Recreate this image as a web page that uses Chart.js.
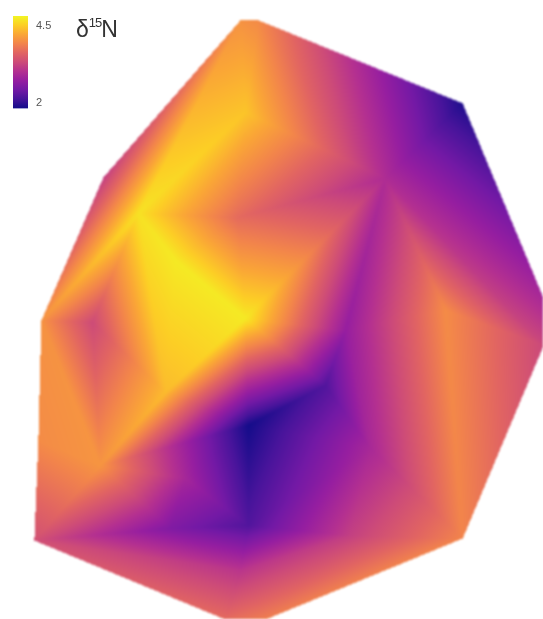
<!DOCTYPE html>
<html>
<head>
<meta charset="utf-8">
<title>d15N</title>
<script src="https://cdn.jsdelivr.net/npm/chart.js@4"></script>
<style>
html,body{margin:0;padding:0;background:#fff;}
#wrap{position:relative;width:543px;height:619px;overflow:hidden;}
#mapChart{position:absolute;left:0;top:0;}
#barChart{position:absolute;left:0;top:0;}
#title{position:absolute;left:76px;top:15px;font:23px "Liberation Sans",Arial,sans-serif;color:#333;line-height:28px;}
#title sup{font-size:13px;line-height:0;position:relative;top:-1px;vertical-align:super;letter-spacing:-1px;}
</style>
</head>
<body>
<div id="wrap">
<canvas id="mapChart" width="543" height="619"></canvas>
<canvas id="barChart" width="60" height="123"></canvas>
<div id="title">δ<sup>15</sup>N</div>
</div>
<script>
// sample sites: position + d15N
//            A    B    C    D    E    F    G    H    I    J    K    L    M    N    O    Q    R    S    T    U    V    W    X    Y    AA   BB   EE   FF   GG   HH   P
let siteX =  [240, 258, 462, 543, 543, 462, 265, 225, 34,  41,  103, 138, 175, 245, 92,  165, 100, 248, 248, 325, 345, 385, 445, 370, 245, 237, 170, 240, 350, 185, 38];
let siteY =  [20,  20,  103, 298, 345, 538, 619, 619, 540, 320, 177, 213, 260, 318, 322, 392, 465, 425, 525, 385, 330, 178, 310, 448, 112, 217, 528, 570, 535, 478, 440];
let siteN15 =[4.05,3.98,1.9, 2.91,3.3, 3.93,3.87,3.69,3.39,4.05,3.21,4.67,4.73,4.73,3.33,4.38,4.07,1.84,2.2, 2.2, 2.73,2.97,3.99,2.91,4.45,3.69,2.55,3.09,3.21,2.88,3.99];

// triangulation, indexes into the site arrays
let triangles = [
 [0,1,24],[1,21,24],[24,21,25],[1,2,21],[2,3,21],[3,4,21],[4,22,21],[4,5,22],[22,5,23],
 [21,22,20],[20,22,23],[21,13,25],[21,20,13],[25,12,11],[25,13,12],[24,25,11],[0,24,11],
 [0,11,10],[10,11,9],[9,11,14],[11,15,14],[11,12,15],[12,13,15],[13,20,19],[13,19,17],
 [20,23,19],[19,23,17],[17,23,18],[23,28,18],[23,5,28],[28,5,6],[28,6,27],[27,6,7],[27,7,8],
 [27,8,26],[18,28,27],[18,27,26],[26,8,16],[26,16,29],[29,18,26],[29,17,18],[29,16,17],
 [16,15,17],[15,13,17],[9,14,16],[9,16,30],[30,16,8],[14,15,16]
];

let scaleMin = 1.84, scaleMax = 4.82;
let scaleTicks = [2, 4.5];
let plasma = [[20,12,138],[72,20,155],[115,25,165],[150,30,160],[180,48,144],[205,75,120],[225,100,98],[242,132,75],[250,166,54],[252,206,37],[242,245,35]];

function plasmaAt(v){
    let t=(v-scaleMin)/(scaleMax-scaleMin);
    t=Math.max(0,Math.min(1,t))*(plasma.length-1);
    let i=Math.min(Math.floor(t),plasma.length-2), f=t-i;
    return plasma[i].map((c,k)=>c+(plasma[i+1][k]-c)*f);
}

// Chart.js has no gouraud fill, so shade each triangle per pixel through the scales
let trianglePlugin={
    id:'triangles',
    beforeDatasetsDraw(chart){
        let w=chart.width,h=chart.height;
        let px=siteX.map(v=>chart.scales.x.getPixelForValue(v));
        let py=siteY.map(v=>chart.scales.y.getPixelForValue(v));
        let off=document.createElement('canvas');
        off.width=w; off.height=h;
        let octx=off.getContext('2d');
        let img=octx.createImageData(w,h);
        triangles.forEach(t=>{
            let a=t[0],b=t[1],c=t[2];
            let d=(py[b]-py[c])*(px[a]-px[c])+(px[c]-px[b])*(py[a]-py[c]);
            if(!d) return;
            let x0=Math.max(0,Math.floor(Math.min(px[a],px[b],px[c]))), x1=Math.min(w-1,Math.ceil(Math.max(px[a],px[b],px[c])));
            let y0=Math.max(0,Math.floor(Math.min(py[a],py[b],py[c]))), y1=Math.min(h-1,Math.ceil(Math.max(py[a],py[b],py[c])));
            for(let y=y0;y<=y1;y++){
                for(let x=x0;x<=x1;x++){
                    let l1=((py[b]-py[c])*(x-px[c])+(px[c]-px[b])*(y-py[c]))/d;
                    let l2=((py[c]-py[a])*(x-px[c])+(px[a]-px[c])*(y-py[c]))/d;
                    let l3=1-l1-l2;
                    if(l1<-0.002||l2<-0.002||l3<-0.002) continue;
                    let col=plasmaAt(l1*siteN15[a]+l2*siteN15[b]+l3*siteN15[c]);
                    let p=(y*w+x)*4;
                    img.data[p]=col[0]; img.data[p+1]=col[1]; img.data[p+2]=col[2]; img.data[p+3]=255;
                }
            }
        });
        octx.putImageData(img,0,0);
        let ctx=chart.ctx;
        ctx.save();
        ctx.filter='blur(0.8px)';
        ctx.drawImage(off,0,0);
        ctx.restore();
    }
};

new Chart(document.getElementById('mapChart').getContext('2d'),{
    type:'scatter',
    plugins:[trianglePlugin],
    data:{datasets:[{label:'δ15N',data:siteX.map((x,i)=>({x:x,y:siteY[i]})),pointRadius:0,showLine:false}]},
    options:{
        responsive:false,animation:false,
        layout:{padding:0},
        plugins:{legend:{display:false},tooltip:{enabled:false}},
        scales:{
            x:{type:'linear',min:0,max:543,display:false},
            y:{type:'linear',min:0,max:619,reverse:true,display:false}
        }
    }
});

// colour bar
let barCtx=document.getElementById('barChart').getContext('2d');
let grad=barCtx.createLinearGradient(0,108,0,16);
plasma.forEach((c,i)=>grad.addColorStop(i/(plasma.length-1),`rgb(${c.join(',')})`));

new Chart(barCtx,{
    type:'bar',
    data:{labels:['δ15N'],datasets:[{data:[[scaleMin,scaleMax]],backgroundColor:grad,barPercentage:1,categoryPercentage:1,borderSkipped:false}]},
    options:{
        responsive:false,animation:false,
        layout:{padding:{left:13,right:0,top:16,bottom:4}},
        plugins:{legend:{display:false},tooltip:{enabled:false}},
        scales:{
            x:{display:false},
            y:{
                position:'right',min:scaleMin,max:scaleMax,
                afterBuildTicks(s){s.ticks=scaleTicks.map(v=>({value:v}));},
                afterFit(s){s.width=32;},
                grid:{display:false,drawTicks:false},
                border:{display:false},
                ticks:{padding:8,color:'#555',font:{family:'Liberation Sans',size:11}}
            }
        }
    }
});
</script>
</body>
</html>
